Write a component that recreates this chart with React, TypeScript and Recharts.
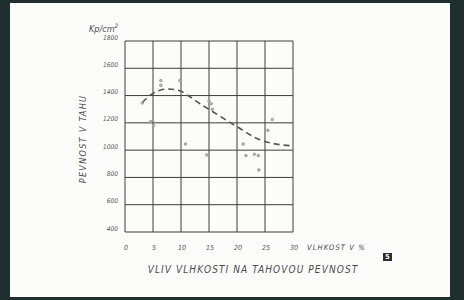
import React from 'react';
import { ComposedChart, Line, Scatter, XAxis, YAxis, CartesianGrid } from 'recharts';

const xTicks = [0, 5, 10, 15, 20, 25, 30];
const yTicks = [400, 600, 800, 1000, 1200, 1400, 1600, 1800];

const moistureSamples = [3.1, 4.6, 5.1, 6.4, 6.4, 9.8, 10.8, 14.6, 15.0, 15.4, 15.6, 21.1, 21.6, 23.1, 23.8, 23.9, 25.5, 26.3];
const strengthSamples = [1345, 1210, 1180, 1510, 1475, 1510, 1045, 965, 1360, 1340, 1300, 1045, 960, 970, 960, 855, 1145, 1225];

const curveMoisture = [3.1, 4.8, 7.7, 9.8, 11.3, 13.4, 15.9, 19.9, 24.1, 27.7, 30];
const curveStrength = [1349, 1411, 1448, 1435, 1399, 1340, 1276, 1174, 1076, 1040, 1032];

const scatterData = moistureSamples.map((x, i) => ({ x, y: strengthSamples[i] }));
const curveData = curveMoisture.map((x, i) => ({ x, y: curveStrength[i] }));

const FONT = "'DejaVu Sans Condensed', 'Liberation Sans Narrow', 'DejaVu Sans', sans-serif";
const INK = '#4a4a4a';

const Dot = (props: any) => {
  const { cx, cy } = props;
  if (cx == null || cy == null) return null;
  return <circle cx={cx} cy={cy} r={1.3} fill="#bbb" stroke="#888" strokeWidth={0.7} />;
};

const YTick = (props: any) => {
  const { x, y, payload } = props;
  return (
    <text x={x + 1} y={y - 1.5} textAnchor="end" fontSize={6.5} fontStyle="italic" fontFamily={FONT} fill="#555">
      {payload.value}
    </text>
  );
};

const XTick = (props: any) => {
  const { x, y, payload } = props;
  return (
    <text x={x + 1} y={y + 10} textAnchor="middle" fontSize={7} fontStyle="italic" fontFamily={FONT} fill="#555">
      {payload.value}
    </text>
  );
};

export default function App() {
  return (
    <div style={{ position: 'absolute', left: 0, top: 0, width: 464, height: 300, background: '#1f2f2d', overflow: 'hidden' }}>
      <div style={{ position: 'absolute', left: 10, top: 3, width: 440, height: 294, background: '#fcfcfb' }} />
      <div style={{ position: 'absolute', left: 0, top: 0 }}>
        <ComposedChart width={464} height={300} margin={{ top: 41, right: 171, bottom: 38, left: 85 }}>
          <CartesianGrid stroke="#3c3c3c" strokeWidth={1} />
          <XAxis
            type="number"
            dataKey="x"
            domain={[0, 30]}
            ticks={xTicks}
            height={30}
            axisLine={false}
            tickLine={false}
            interval={0}
            tick={<XTick />}
          />
          <YAxis
            type="number"
            dataKey="y"
            domain={[400, 1800]}
            ticks={yTicks}
            width={40}
            axisLine={false}
            tickLine={false}
            interval={0}
            tick={<YTick />}
          />
          <Line
            data={curveData}
            dataKey="y"
            type="monotone"
            stroke="#555"
            strokeWidth={1.6}
            strokeDasharray="6 4"
            dot={false}
            isAnimationActive={false}
          />
          <Scatter data={scatterData} dataKey="y" shape={<Dot />} isAnimationActive={false} />
        </ComposedChart>
      </div>
      <div style={{ position: 'absolute', left: 89, top: 22, fontFamily: FONT, fontStyle: 'italic', fontSize: 9, color: INK, whiteSpace: 'nowrap' }}>
        Kp/cm<sup style={{ fontSize: 6 }}>2</sup>
      </div>
      <div
        style={{
          position: 'absolute',
          left: 83,
          top: 139,
          transform: 'translate(-50%, -50%) rotate(-90deg)',
          fontFamily: FONT,
          fontStyle: 'italic',
          fontSize: 9,
          letterSpacing: 1.3,
          color: INK,
          whiteSpace: 'nowrap',
        }}
      >
        PEVNOST V TAHU
      </div>
      <div style={{ position: 'absolute', left: 307, top: 243, fontFamily: FONT, fontStyle: 'italic', fontSize: 7.5, letterSpacing: 1.1, color: INK, whiteSpace: 'nowrap' }}>
        VLHKOST V %
      </div>
      <div
        style={{
          position: 'absolute',
          left: 253,
          top: 269,
          transform: 'translate(-50%, -50%)',
          fontFamily: FONT,
          fontStyle: 'italic',
          fontSize: 10,
          letterSpacing: 1.1,
          color: INK,
          whiteSpace: 'nowrap',
        }}
      >
        VLIV VLHKOSTI NA TAHOVOU PEVNOST
      </div>
      <div
        style={{
          position: 'absolute',
          left: 383,
          top: 253,
          width: 9,
          height: 8,
          background: '#2e2e2e',
          color: '#fff',
          fontFamily: FONT,
          fontWeight: 'bold',
          fontSize: 7,
          lineHeight: '8px',
          textAlign: 'center',
        }}
      >
        5
      </div>
    </div>
  );
}
